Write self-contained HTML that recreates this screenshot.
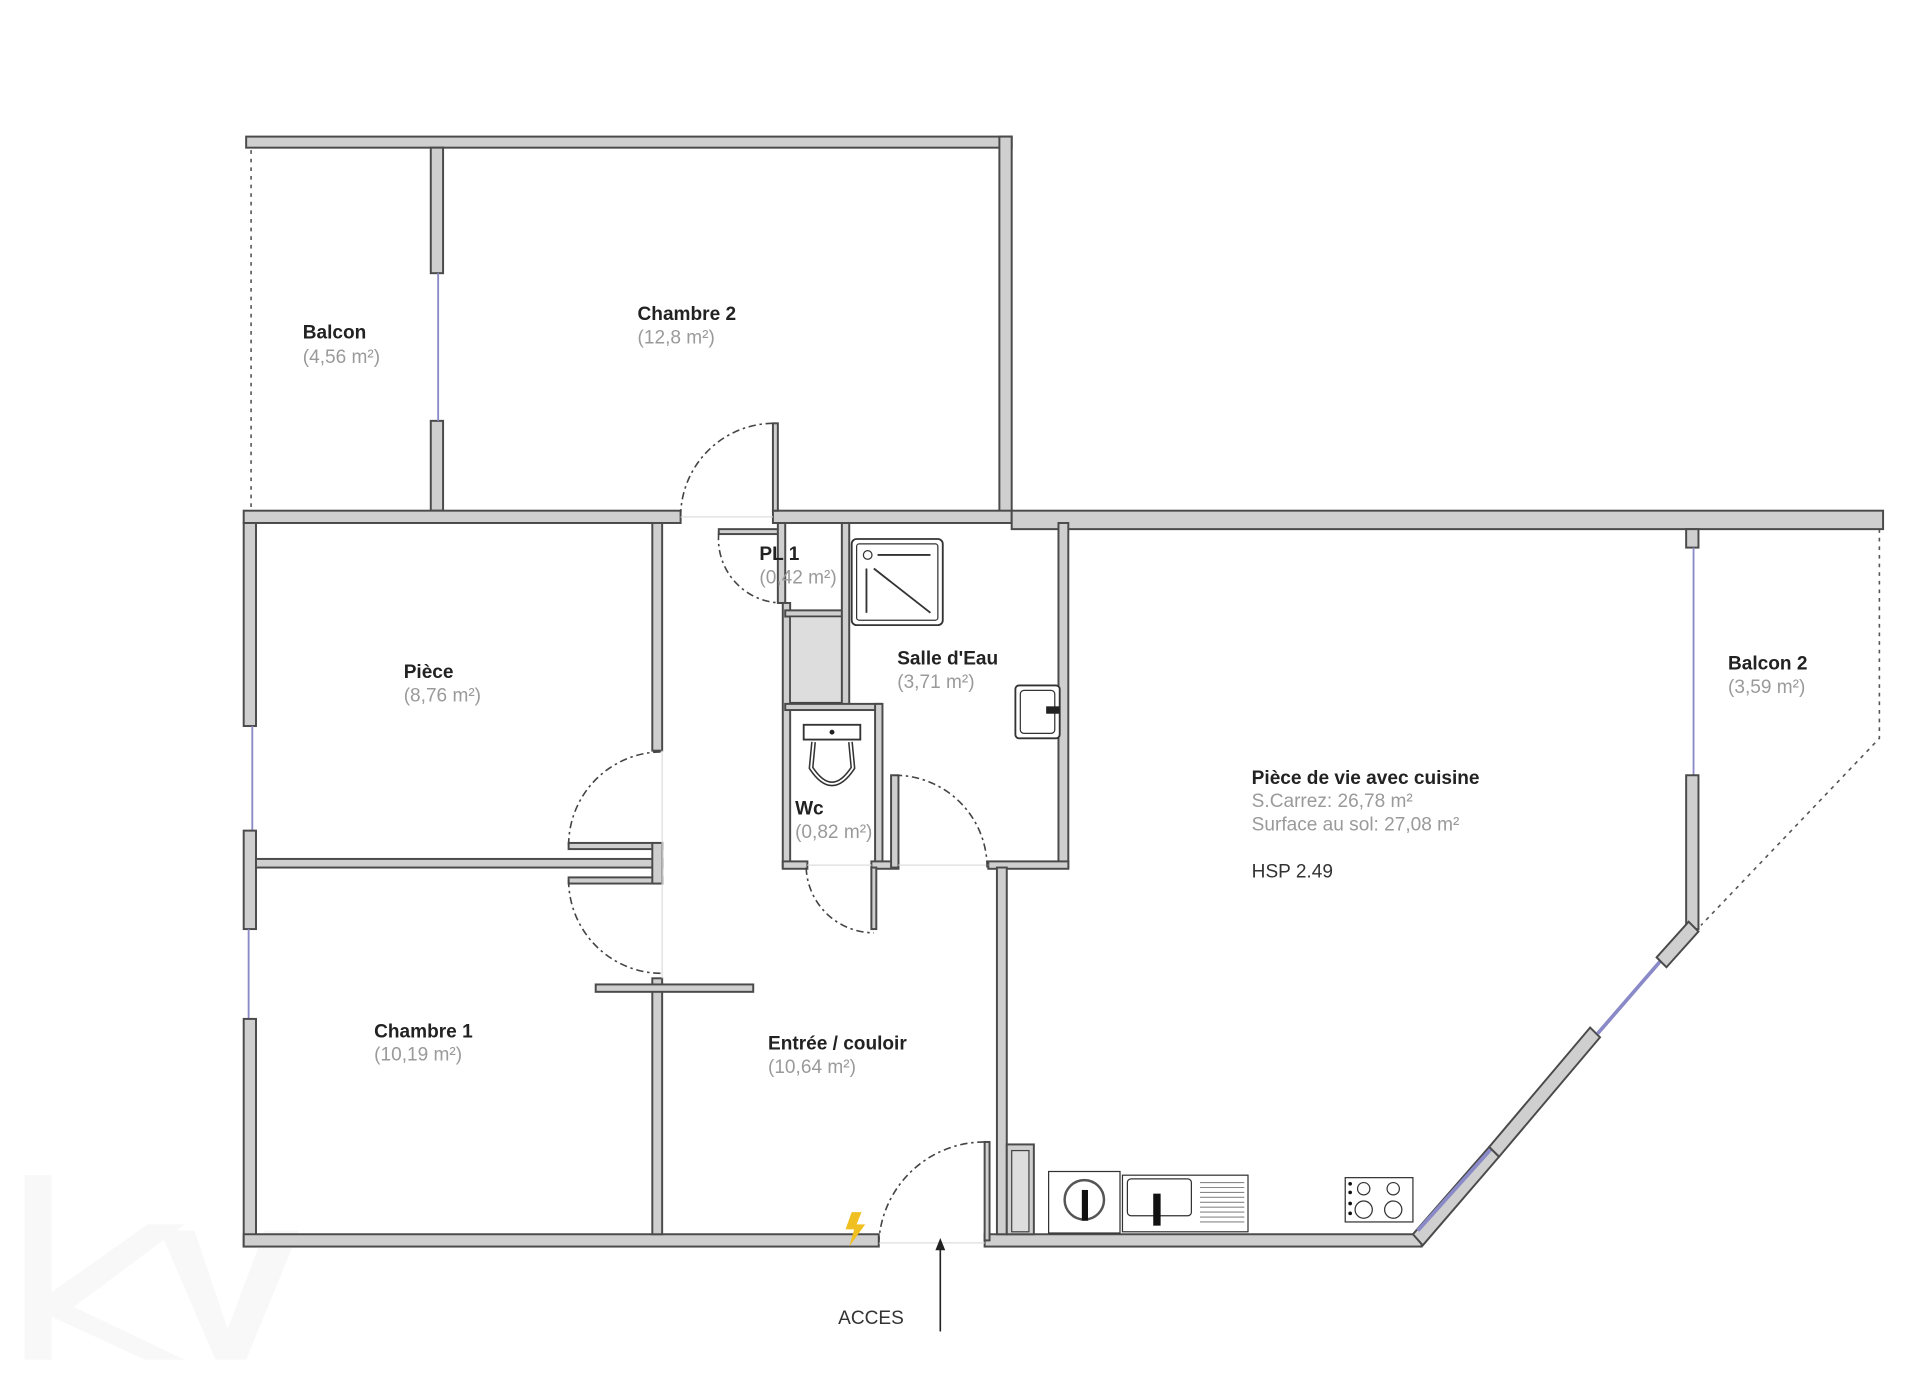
<!DOCTYPE html>
<html><head><meta charset="utf-8"><style>
html,body{margin:0;padding:0;background:#fff;width:1920px;height:1377px;overflow:hidden}
svg{display:block}
.w{fill:#cfcfcf;stroke:#4a4a4a;stroke-width:1.6}
.d{fill:none;stroke:#444;stroke-width:1.3;stroke-dasharray:6 3 2 3}
.win{stroke:#8a8ac8;stroke-width:1.5}
.dot{fill:none;stroke:#555;stroke-width:1.3;stroke-dasharray:3 4}
.t{font-family:"Liberation Sans",Arial,sans-serif;font-size:15.5px;font-weight:bold;fill:#222}
.a{font-family:"Liberation Sans",Arial,sans-serif;font-size:15.5px;fill:#9a9a9a}
.n{font-family:"Liberation Sans",Arial,sans-serif;font-size:15.5px;fill:#333}
.f{fill:#fff;stroke:#333;stroke-width:1.5}
</style></head><body>
<svg width="1920" height="1377" viewBox="0 0 1560 1119" preserveAspectRatio="none" xmlns="http://www.w3.org/2000/svg">
<g fill="#f8f8f8">
<rect x="20" y="955" width="22" height="150"/>
<polygon points="42,1050 120,995 150,995 60,1062 150,1105 118,1105 42,1070"/>
<polygon points="130,1000 158,1000 185,1080 215,1000 243,1000 200,1105 175,1105"/>
</g>
<line class="dot" x1="204" y1="122" x2="204" y2="415"/>
<polyline class="dot" points="1527,430 1527,600 1382,752"/>
<rect class="w" x="200" y="111" width="622" height="9"/>
<rect class="w" x="350" y="120" width="10" height="102"/>
<rect class="w" x="350" y="342" width="10" height="73"/>
<line class="win" x1="356" y1="222" x2="356" y2="342"/>
<rect class="w" x="812" y="111" width="10" height="309"/>
<rect class="w" x="198" y="415" width="355" height="10"/>
<rect class="w" x="628" y="415" width="194" height="10"/>
<rect class="w" x="822" y="415" width="708" height="15"/>
<rect class="w" x="1370" y="430" width="10" height="15"/>
<line class="win" x1="1376" y1="445" x2="1376" y2="630"/>
<rect class="w" x="1370" y="630" width="10" height="125"/>
<rect class="w" x="198" y="425" width="10" height="165"/>
<line class="win" x1="205" y1="590" x2="205" y2="675"/>
<rect class="w" x="198" y="675" width="10" height="80"/>
<line class="win" x1="202" y1="755" x2="202" y2="828"/>
<rect class="w" x="198" y="828" width="10" height="185"/>
<rect class="w" x="198" y="1003" width="516" height="10"/>
<rect class="w" x="800" y="1003" width="355" height="10"/>
<polygon class="w" points="1148,1003 1156,1012 1218,940 1210,932"/>
<line class="win" x1="1152" y1="1000" x2="1213" y2="932" style="stroke-width:3"/>
<polygon class="w" points="1210,932 1218,940 1300,843 1292,835"/>
<line class="win" x1="1298" y1="840" x2="1350" y2="780" style="stroke-width:3"/>
<polygon class="w" points="1346,778 1354,786 1380,757 1372,749"/>
<rect class="w" x="208" y="698" width="330" height="7"/>
<rect class="w" x="530" y="425" width="8" height="185"/>
<rect class="w" x="462" y="685" width="76" height="5"/>
<rect class="w" x="462" y="713" width="76" height="5"/>
<rect class="w" x="530" y="685" width="8" height="33"/>
<rect class="w" x="530" y="795" width="8" height="208"/>
<rect class="w" x="484" y="800" width="128" height="6"/>
<line x1="538" y1="610" x2="538" y2="795" stroke="#ddd" stroke-width="1"/>
<rect class="w" x="584" y="430" width="52" height="4"/>
<rect class="w" x="632" y="425" width="6" height="65"/>
<rect class="w" x="636" y="490" width="6" height="215"/>
<rect class="w" x="638" y="496" width="50" height="5"/>
<rect x="642" y="501" width="43" height="70" fill="#ddd" stroke="#444" stroke-width="1.2"/>
<rect class="w" x="684" y="425" width="6" height="150"/>
<rect class="w" x="638" y="572" width="78" height="5"/>
<rect class="w" x="711" y="572" width="6" height="133"/>
<rect class="w" x="636" y="700" width="20" height="6"/>
<rect class="w" x="708" y="700" width="22" height="6"/>
<rect class="w" x="724" y="630" width="6" height="75"/>
<rect class="w" x="860" y="425" width="8" height="280"/>
<rect class="w" x="803" y="700" width="65" height="6"/>
<rect class="w" x="810" y="705" width="8" height="298"/>
<rect class="w" x="708" y="705" width="4" height="50"/>
<rect class="w" x="800" y="928" width="4" height="80"/>
<line x1="656" y1="703" x2="708" y2="703" stroke="#ddd"/>
<line x1="730" y1="703" x2="803" y2="703" stroke="#ddd"/>
<line x1="553" y1="420" x2="628" y2="420" stroke="#ddd"/>
<line x1="714" y1="1010" x2="800" y2="1010" stroke="#ddd"/>
<rect class="w" x="628" y="344" width="4" height="71"/>
<path class="d" d="M628,344 A76,76 0 0 0 553,420"/>
<path class="d" d="M584,433 A52,52 0 0 0 636,490"/>
<path class="d" d="M462,687 A76,76 0 0 1 538,611"/>
<path class="d" d="M462,715 A76,76 0 0 0 538,791"/>
<path class="d" d="M727,630 A75,75 0 0 1 802,705"/>
<path class="d" d="M655,705 A55,55 0 0 0 710,758"/>
<path class="d" d="M800,928 A86,86 0 0 0 714,1010"/>
<rect class="f" x="692" y="438" width="74" height="70" rx="4"/>
<rect class="f" x="696" y="442" width="66" height="62" rx="2" style="stroke-width:1"/>
<circle cx="705" cy="451" r="3.5" fill="none" stroke="#333"/>
<line x1="713" y1="451" x2="756" y2="451" stroke="#333" stroke-width="1.5"/>
<line x1="704" y1="462" x2="704" y2="498" stroke="#333" stroke-width="1.5"/>
<line x1="710" y1="462" x2="756" y2="498" stroke="#333" stroke-width="1.5"/>
<rect class="f" x="825" y="557" width="36" height="43" rx="3"/>
<rect class="f" x="829" y="561" width="28" height="35" rx="3" style="stroke-width:1"/>
<rect x="850" y="574" width="11" height="6" fill="#222"/>
<rect class="f" x="653" y="589" width="46" height="12"/>
<circle cx="676" cy="595" r="2" fill="#222"/>
<path d="M661,603 L659,624 Q676,650 693,624 L691,603" fill="none" stroke="#333" stroke-width="4"/>
<path d="M661,603 L659,624 Q676,650 693,624 L691,603" fill="none" stroke="#fff" stroke-width="1.5"/>
<rect class="w" x="818" y="930" width="22" height="73"/>
<rect x="822" y="935" width="14" height="66" fill="#ddd" stroke="#444"/>
<rect class="f" x="852" y="952" width="58" height="50" style="stroke-width:1"/>
<circle cx="881" cy="975" r="16" fill="none" stroke="#555" stroke-width="2"/>
<rect x="879" y="967" width="5" height="25" fill="#111"/>
<rect class="f" x="912" y="955" width="102" height="46" style="stroke-width:1"/>
<rect class="f" x="916" y="958" width="52" height="30" rx="3" style="stroke-width:1"/>
<rect x="937" y="970" width="6" height="26" fill="#111"/>
<g stroke="#888" stroke-width="0.9">
<line x1="975" y1="961" x2="1011" y2="961"/><line x1="975" y1="965" x2="1011" y2="965"/><line x1="975" y1="969" x2="1011" y2="969"/><line x1="975" y1="973" x2="1011" y2="973"/><line x1="975" y1="977" x2="1011" y2="977"/><line x1="975" y1="981" x2="1011" y2="981"/><line x1="975" y1="985" x2="1011" y2="985"/><line x1="975" y1="989" x2="1011" y2="989"/><line x1="975" y1="993" x2="1011" y2="993"/>
</g>
<rect class="f" x="1093" y="957" width="55" height="36" style="stroke-width:1"/>
<circle cx="1108" cy="966" r="5" fill="none" stroke="#333"/><circle cx="1132" cy="966" r="5" fill="none" stroke="#333"/>
<circle cx="1108" cy="983" r="7" fill="none" stroke="#333"/><circle cx="1132" cy="983" r="7" fill="none" stroke="#333"/>
<circle cx="1097" cy="962" r="1.5" fill="#111"/><circle cx="1097" cy="969" r="1.5" fill="#111"/><circle cx="1097" cy="978" r="1.5" fill="#111"/><circle cx="1097" cy="986" r="1.5" fill="#111"/>
<polygon points="692,985 700,985 696,995 703,995 690,1013 694,999 687,999" fill="#f0c020"/>
<line x1="764" y1="1082" x2="764" y2="1012" stroke="#222" stroke-width="1.3"/>
<polygon points="764,1006 760,1016 768,1016" fill="#222"/>
<text class="t" x="246" y="275">Balcon</text><text class="a" x="246" y="295">(4,56 m²)</text>
<text class="t" x="518" y="260">Chambre 2</text><text class="a" x="518" y="279">(12,8 m²)</text>
<text class="t" x="617" y="455">PL 1</text><text class="a" x="617" y="474">(0,42 m²)</text>
<text class="t" x="729" y="540">Salle d'Eau</text><text class="a" x="729" y="559">(3,71 m²)</text>
<text class="t" x="328" y="551">Pièce</text><text class="a" x="328" y="570">(8,76 m²)</text>
<text class="t" x="646" y="662">Wc</text><text class="a" x="646" y="681">(0,82 m²)</text>
<text class="t" x="1404" y="544">Balcon 2</text><text class="a" x="1404" y="563">(3,59 m²)</text>
<text class="t" x="1017" y="637">Pièce de vie avec cuisine</text>
<text class="a" x="1017" y="656">S.Carrez: 26,78 m²</text>
<text class="a" x="1017" y="675">Surface au sol: 27,08 m²</text>
<text class="n" x="1017" y="713">HSP 2.49</text>
<text class="t" x="304" y="843">Chambre 1</text><text class="a" x="304" y="862">(10,19 m²)</text>
<text class="t" x="624" y="853">Entrée / couloir</text><text class="a" x="624" y="872">(10,64 m²)</text>
<text class="n" x="681" y="1076">ACCES</text>
</svg>
</body></html>
